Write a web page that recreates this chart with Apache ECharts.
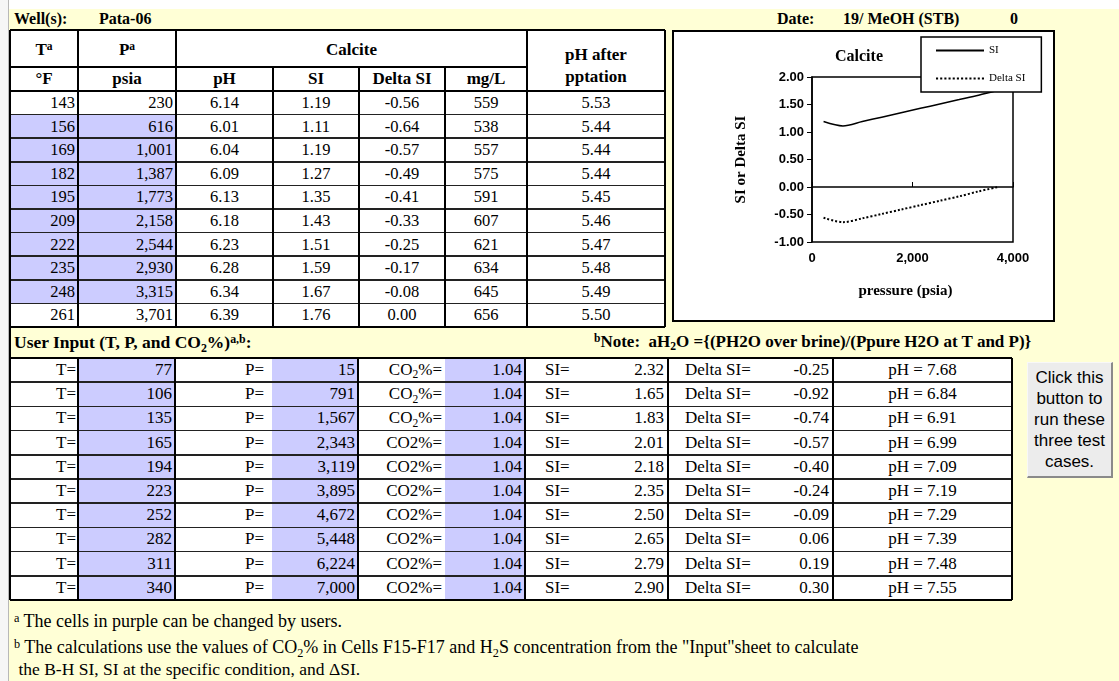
<!DOCTYPE html>
<html><head><meta charset="utf-8">
<script src="https://cdn.jsdelivr.net/npm/echarts@6/dist/echarts.min.js"></script>
<style>
html,body{margin:0;padding:0;background:#fff;}
#root{position:relative;width:1119px;height:681px;overflow:hidden;background:#fff;}
.c{position:absolute;box-sizing:border-box;white-space:nowrap;overflow:visible;color:#000;}
</style></head>
<body><div id="root"></div>
<script>
// ---------------- DATA ----------------
const topT = [143,156,169,182,195,209,222,235,248,261];
const topP = [230,616,1001,1387,1773,2158,2544,2930,3315,3701];
const topPH = [6.14,6.01,6.04,6.09,6.13,6.18,6.23,6.28,6.34,6.39];
const topSI = [1.19,1.11,1.19,1.27,1.35,1.43,1.51,1.59,1.67,1.76];
const topDeltaSI = [-0.56,-0.64,-0.57,-0.49,-0.41,-0.33,-0.25,-0.17,-0.08,0.00];
const topMgL = [559,538,557,575,591,607,621,634,645,656];
const topPHafter = [5.53,5.44,5.44,5.44,5.45,5.46,5.47,5.48,5.49,5.50];
const topPurpleRows = [1,2,3,4,5,6,7,8];

const userT = [77,106,135,165,194,223,252,282,311,340];
const userP = [15,791,1567,2343,3119,3895,4672,5448,6224,7000];
const userCO2 = [1.04,1.04,1.04,1.04,1.04,1.04,1.04,1.04,1.04,1.04];
const userCO2Sub = [true,true,true,false,false,false,false,false,false,false];
const userSI = [2.32,1.65,1.83,2.01,2.18,2.35,2.50,2.65,2.79,2.90];
const userDeltaSI = [-0.25,-0.92,-0.74,-0.57,-0.40,-0.24,-0.09,0.06,0.19,0.30];
const userPH = [7.68,6.84,6.91,6.99,7.09,7.19,7.29,7.39,7.48,7.55];

const xTicks = [0,2000,4000];
const yTicks = [-1.0,-0.5,0,0.5,1.0,1.5,2.0];

// ---------------- HELPERS ----------------
const root = document.getElementById('root');
const SERIF = '"Liberation Serif","Times New Roman",serif';
const SANS = '"Liberation Sans",Arial,sans-serif';
const YEL = '#FFFFD6', PUR = '#CCCCFF';
function box(x1,y1,x2,y2,bg){const d=document.createElement('div');d.className='c';
  d.style.cssText+=`left:${x1}px;top:${y1}px;width:${x2-x1}px;height:${y2-y1}px;background:${bg};`;root.appendChild(d);return d;}
function txt(x1,y1,x2,y2,html,align,font,pad){const d=document.createElement('div');d.className='c';
  d.style.cssText+=`font:${font||('16px '+SERIF)};left:${x1}px;top:${y1}px;width:${x2-x1}px;height:${y2-y1}px;line-height:${y2-y1}px;text-align:${align};padding:0 ${pad==null?3:pad}px;`;
  d.innerHTML=html;root.appendChild(d);return d;}
function hl(x1,x2,y,w,col){box(x1,y-w/2,x2,y+w/2,col||'#000');}
function vl(x,y1,y2,w,col){box(x-w/2,y1,x+w/2,y2,col||'#000');}
const sup=t=>`<span style="font-size:0.68em;position:relative;top:-0.45em;line-height:0">${t}</span>`;
const sub=t=>`<span style="font-size:0.68em;position:relative;top:0.3em;line-height:0">${t}</span>`;
const f2=v=>v.toFixed(2);
const fc=v=>v.toLocaleString('en-US');
const B17='bold 17px '+SERIF, R16='16.5px '+SERIF, R17='17px '+SERIF, B16='bold 16px '+SERIF;

// ---------------- PAGE ----------------
box(0,0,9,681,'#F6F6F6'); vl(8.5,0,681,1,'#B8B8B8');
box(9,9,1119,681,YEL);

// header row
txt(10,8,90,30,'Well(s):','left',B16,4);
txt(96,8,200,30,'Pata-06','left',B16,3);
txt(772,8,835,30,'Date:','left',B16,5);
txt(841,8,975,30,'19/ MeOH (STB)','left',B16,2);
txt(1000,8,1030,30,'0','left',B16,10);

// ---------------- TOP TABLE ----------------
const TX=[10,78,176,273,359,445,527,665];
const TY0=30, TY1=67, TY2=91, RH=23.6;
box(10,TY0,665,TY2+RH*10,'#fff');
topPurpleRows.forEach(i=>box(TX[0],TY2+RH*i,TX[2],TY2+RH*(i+1),PUR));
// header text
txt(TX[0],TY0+2,TX[1],TY1,'T'+sup('a'),'center',B17);
txt(TX[1],TY0+2,TX[2],TY1,'P'+sup('a'),'center',B17);
txt(TX[2],TY0+2,TX[6],TY1,'Calcite','center',B17);
txt(TX[6],TY0+14,TX[7],TY0+36,'pH after','center',B17);
txt(TX[6],TY0+36,TX[7],TY0+58,'pptation','center',B17);
const h2=['°F','psia','pH','SI','Delta SI','mg/L'];
h2.forEach((h,i)=>txt(TX[i],TY1,TX[i+1],TY2,h,'center',B17));
// rows
for(let i=0;i<10;i++){
  const y1=TY2+RH*i,y2=y1+RH;
  txt(TX[0],y1,TX[1],y2,String(topT[i]),'right',R16,3);
  txt(TX[1],y1,TX[2],y2,fc(topP[i]),'right',R16,3);
  txt(TX[2],y1,TX[3],y2,f2(topPH[i]),'center',R16);
  txt(TX[3],y1,TX[4],y2,f2(topSI[i]),'center',R16);
  txt(TX[4],y1,TX[5],y2,f2(topDeltaSI[i]),'center',R16);
  txt(TX[5],y1,TX[6],y2,String(topMgL[i]),'center',R16);
  txt(TX[6],y1,TX[7],y2,f2(topPHafter[i]),'center',R16);
}
const TYE=TY2+RH*10;
// lines
for(let i=1;i<10;i++) hl(TX[0],TX[7],TY2+RH*i,1.6,'#222');
hl(TX[0],TX[6],TY1,2);
hl(TX[0],TX[7],TY2,2);
hl(TX[0],TX[7],TY0,2.5);
hl(TX[0],TX[7],TYE,2.5);
[0,1,2,6,7].forEach(i=>vl(TX[i],TY0,TYE,2.2));
[3,4,5].forEach(i=>vl(TX[i],TY1,TYE,2.2));

// user input row
const UY2=358;
txt(10,TYE,400,TYE+30,'User Input (T, P, and CO'+sub('2')+'%)'+sup('a,b')+':','left','bold 17.5px '+SERIF,4);
txt(590,TYE,1050,TYE+30,sup('b')+'Note:&nbsp; aH'+sub('2')+'O ={(PH2O over brine)/(Ppure H2O at T and P)}','left',B17,4);
vl(10,TYE,UY2,2.2);

// ---------------- BOTTOM TABLE ----------------
const BX=[10,78,175,272,358,445,525,668,833,1012];
const BRH=24.2, BY0=UY2;
box(10,BY0,1012,BY0+BRH*10,'#fff');
box(BX[1],BY0,BX[2],BY0+BRH*10,PUR);
box(BX[3],BY0,BX[4],BY0+BRH*10,PUR);
box(BX[5],BY0,BX[6],BY0+BRH*10,PUR);
for(let i=0;i<10;i++){
  const y1=BY0+BRH*i,y2=y1+BRH;
  txt(BX[0],y1,BX[1],y2,'T=','right',R17,2);
  txt(BX[1],y1,BX[2],y2,String(userT[i]),'right',R17,3);
  txt(BX[2],y1,BX[3],y2,'P=','right',R17,8);
  txt(BX[3],y1,BX[4],y2,fc(userP[i]),'right',R17,3);
  txt(BX[4],y1,BX[5],y2,userCO2Sub[i]?('CO'+sub('2')+'%='):'CO2%=','right',R17,3);
  txt(BX[5],y1,BX[6],y2,f2(userCO2[i]),'right',R17,3);
  txt(BX[6],y1,BX[7],y2,'SI=','left',R17,20);
  txt(BX[6],y1,BX[7],y2,f2(userSI[i]),'right',R17,4);
  txt(BX[7],y1,BX[8],y2,'Delta SI=','left',R17,17);
  txt(BX[7],y1,BX[8],y2,f2(userDeltaSI[i]),'right',R17,4);
  txt(BX[8],y1,BX[9],y2,'pH = '+f2(userPH[i]),'center',R17,8);
}
const BYE=BY0+BRH*10;
for(let i=1;i<10;i++) hl(BX[0],BX[9],BY0+BRH*i,1.6,'#222');
hl(BX[0],BX[9],BY0,2.5);
hl(BX[0],BX[9],BYE,2.5);
[0,1,2,4,6,7,8,9].forEach(i=>vl(BX[i],BY0,BYE,2.2));

// button
const btn=document.createElement('div');btn.className='c';
btn.style.cssText+=`font:17px ${SANS};left:1027px;top:362px;width:86px;height:116px;background:#ECECEC;border-right:2px solid #8a8a8a;border-bottom:2px solid #8a8a8a;border-top:1px solid #f8f8f8;border-left:1px solid #f8f8f8;line-height:21px;text-align:center;padding-top:4px;`;
btn.innerHTML='Click this<br>button to<br>run these<br>three test<br>cases.';
root.appendChild(btn);

// footnotes
const R18='18px '+SERIF;
txt(10,608,900,634,sup('a')+' The cells in purple can be changed by users.','left',R18,4);
txt(10,634,900,660,sup('b')+' The calculations use the values of CO'+sub('2')+'% in Cells F15-F17 and H'+sub('2')+'S concentration from the "Input"sheet to calculate','left',R18,4);
txt(10,657,900,681,'&nbsp;the B-H SI, SI at the specific condition, and ΔSI.','left','17.5px '+SERIF,4);

// ---------------- CHART ----------------
const cw=document.createElement('div');cw.className='c';
cw.style.cssText+='left:672px;top:30px;width:383px;height:292px;border:2px solid #000;background:#fff;';
root.appendChild(cw);
const cd=document.createElement('div');cd.style.cssText='width:379px;height:288px;';cw.appendChild(cd);
const chart=echarts.init(cd,null,{renderer:'canvas'});
const siData=topP.map((p,i)=>[p,topSI[i]]);
const dsiData=topP.map((p,i)=>[p,topDeltaSI[i]]);
chart.setOption({
  animation:false,
  backgroundColor:'#fff',
  title:{text:'Calcite',left:156,top:12,textStyle:{fontFamily:SERIF,fontWeight:'bold',fontSize:16,color:'#000'}},
  legend:{left:247,top:5,orient:'vertical',itemWidth:48,itemHeight:10,itemGap:17,padding:[8,16,8,15],
    backgroundColor:'#fff',borderColor:'#000',borderWidth:1.5,
    textStyle:{fontFamily:SERIF,fontSize:11,color:'#000'},
    data:[{name:'SI',icon:'path://M0,4H48V6H0Z'},{name:'Delta SI',icon:'path://M0,4H2V6H0ZM4,4H6V6H4ZM8,4H10V6H8ZM12,4H14V6H12ZM16,4H18V6H16ZM20,4H22V6H20ZM24,4H26V6H24ZM28,4H30V6H28ZM32,4H34V6H32ZM36,4H38V6H36ZM40,4H42V6H40ZM44,4H46V6H44Z'}]},
  grid:{left:138,top:45,width:201,height:165,show:true,borderColor:'#000',borderWidth:1.5,backgroundColor:'#fff'},
  xAxis:[{type:'value',min:xTicks[0],max:xTicks[xTicks.length-1],interval:xTicks[1]-xTicks[0],
    name:'pressure (psia)',nameLocation:'middle',nameGap:42,
    nameTextStyle:{fontFamily:SERIF,fontWeight:'bold',fontSize:15,color:'#000',padding:[0,14,0,0]},
    axisLine:{show:false,onZero:false},axisTick:{show:false},splitLine:{show:false},
    axisLabel:{margin:10,fontFamily:SANS,fontWeight:'bold',fontSize:13,color:'#000',formatter:v=>v.toLocaleString('en-US')}},
   {type:'value',position:'bottom',min:xTicks[0],max:xTicks[xTicks.length-1],interval:xTicks[1]-xTicks[0],
    axisLine:{show:true,onZero:true,lineStyle:{color:'#000',width:1.5}},axisTick:{show:true,inside:true,length:5,lineStyle:{color:'#000'}},
    axisLabel:{show:false},splitLine:{show:false}}],
  yAxis:{type:'value',min:yTicks[0],max:yTicks[yTicks.length-1],interval:yTicks[1]-yTicks[0],
    name:'SI or Delta SI',nameLocation:'middle',nameGap:63,nameRotate:90,
    nameTextStyle:{fontFamily:SERIF,fontWeight:'bold',fontSize:15,color:'#000'},
    axisLine:{show:true,lineStyle:{color:'#000',width:1.5}},axisTick:{show:true,length:5,lineStyle:{color:'#000'}},
    splitLine:{show:false},
    axisLabel:{margin:8,fontFamily:SANS,fontWeight:'bold',fontSize:13,color:'#000',formatter:v=>v.toFixed(2)}},
  series:[
    {name:'SI',type:'line',data:siData,smooth:0.3,symbol:'none',lineStyle:{color:'#000',width:1.5},itemStyle:{color:'#000'},z:3},
    {name:'Delta SI',type:'line',data:dsiData,smooth:0.3,symbol:'none',lineStyle:{color:'#000',width:2,type:[2,2]},itemStyle:{color:'#000'},z:3}
  ]
});
</script></body></html>
